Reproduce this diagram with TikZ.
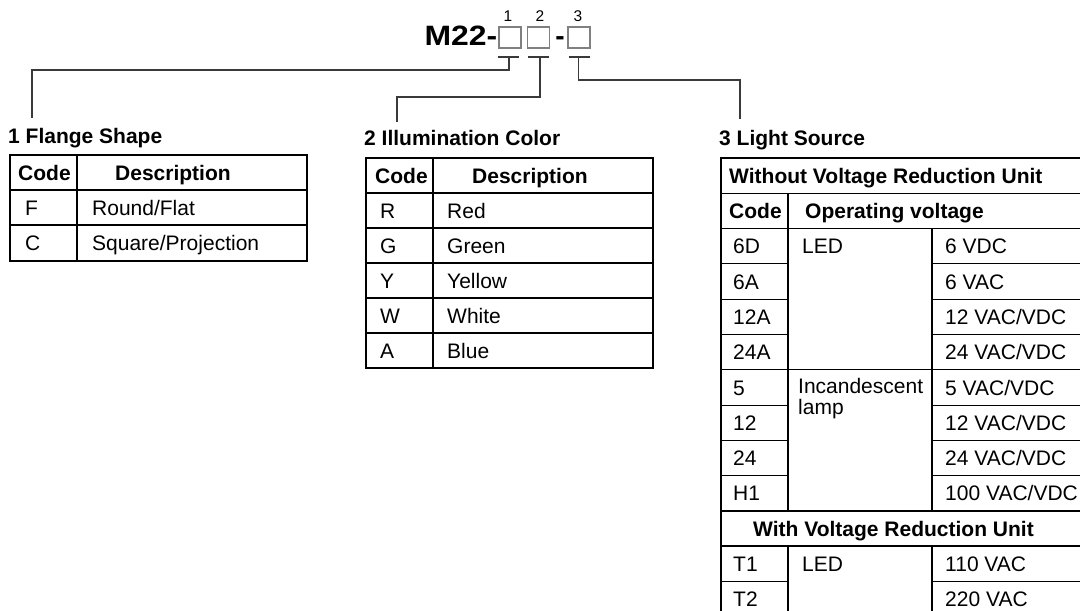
\documentclass[tikz,border=0pt]{standalone}
\usepackage{fontspec}
\setmainfont{Liberation Sans}
\definecolor{boxgray}{HTML}{808080}
\definecolor{conngray}{HTML}{3A3A3A}
\begin{document}
\begin{tikzpicture}[x=1pt,y=-1pt,
  txt/.style={anchor=base west,inner sep=0,font=\fontsize{21}{24}\selectfont},
  btxt/.style={anchor=base west,inner sep=0,font=\fontsize{21}{24}\selectfont\bfseries},
  outer/.style={line width=2.2pt},
  inner/.style={line width=1.1pt},
  codebox/.style={draw=boxgray,line width=1.2pt,minimum width=22pt,minimum height=21pt,inner sep=0},
  conn/.style={draw=conngray,line width=1.3pt},
  numlbl/.style={anchor=base,inner sep=0,font=\fontsize{15.5}{17}\selectfont},
]
\useasboundingbox (0,0) rectangle (1080,611);
\clip (0,0) rectangle (1080,611);

% ---------- header ----------
\node[codebox] (b1) at (510,37.5) {};
\node[codebox] (b2) at (538.5,37.5) {};
\node[codebox] (b3) at (579,37.5) {};
\node[anchor=base east,inner sep=0,font=\fontsize{28}{30}\selectfont\bfseries] (m22) at (497.5,45) {\scalebox{1.14}[1]{M22-}};
\node[anchor=base,inner sep=0,font=\fontsize{28}{30}\selectfont\bfseries] (dash) at (560,45) {-};
\node[numlbl] (n1) at (508,21) {1};
\node[numlbl] (n2) at (540,21) {2};
\node[numlbl] (n3) at (578,21) {3};

% ---------- titles ----------
\node[btxt] (t1) at (8,143) {1 Flange Shape};
\node[btxt] (t2) at (364,145) {2 Illumination Color};
\node[btxt] (t3) at (719,145) {3 Light Source};

% ---------- connectors ----------
\coordinate (k1) at (509,57);
\coordinate (k2) at (540,57);
\coordinate (k3) at (578.5,57);
\coordinate (e1) at (32,118);
\coordinate (e2) at (397,122);
\coordinate (e3) at (740,119);
\draw[conn] ([xshift=-11pt]k1) -- ([xshift=10pt]k1);
\draw[conn] ([xshift=-12pt]k2) -- ([xshift=9pt]k2);
\draw[conn] ([xshift=-10pt]k3) -- ([xshift=11pt]k3);
\draw[conn] (k1) -- ++(0,13) -| (e1);
\draw[conn] (k2) -- ++(0,40) -| (e2);
\draw[conn] (k3) -- ++(0,23) -| (e3);

% ---------- table 1 ----------
\draw[inner] (10,190) -- (307,190);
\draw[inner] (10,225) -- (307,225);
\draw[inner] (77,155) -- (77,261);
\draw[outer] (10,155) rectangle (307,261);
\node[btxt] (t1h1) at (18,180) {Code};
\node[btxt] (t1h2) at (115,180) {Description};
\node[txt] (t1c1) at (25,215) {F};
\node[txt] (t1d1) at (92,215) {Round/Flat};
\node[txt] (t1c2) at (25,250.5) {C};
\node[txt] (t1d2) at (92,250.5) {Square/Projection};

% ---------- table 2 ----------
\foreach \yy in {193,228,263,298,333} \draw[inner] (366,\yy) -- (653,\yy);
\draw[inner] (433,158) -- (433,368);
\draw[outer] (366,158) rectangle (653,368);
\node[btxt] (t2h1) at (375,183) {Code};
\node[btxt] (t2h2) at (472,183) {Description};
\node[txt] (t2c1) at (380,218) {R};
\node[txt] (t2d1) at (447,218) {Red};
\node[txt] (t2c2) at (380,253) {G};
\node[txt] (t2d2) at (447,253) {Green};
\node[txt] (t2c3) at (380,288) {Y};
\node[txt] (t2d3) at (447,288) {Yellow};
\node[txt] (t2c4) at (380,323) {W};
\node[txt] (t2d4) at (447,323) {White};
\node[txt] (t2c5) at (380,358) {A};
\node[txt] (t2d5) at (447,358) {Blue};

% ---------- table 3 ----------
\foreach \yy in {193.3,228.6,369.8} \draw[inner] (721,\yy) -- (1100,\yy);
\foreach \yy in {263.9,299.2,334.5,405.1,440.4,475.7,581.6} {
  \draw[inner] (721,\yy) -- (788,\yy);
  \draw[inner] (932,\yy) -- (1100,\yy);
}
\draw[inner] (788,193.3) -- (788,511);
\draw[inner] (788,546.3) -- (788,630);
\draw[inner] (932,228.6) -- (932,511);
\draw[inner] (932,546.3) -- (932,630);
\draw[outer] (721,511) -- (1100,511);
\draw[outer] (721,546.3) -- (1100,546.3);
\draw[outer] (1100,158) -- (721,158) -- (721,630);

\node[btxt] (t3h0) at (729,183.2) {Without Voltage Reduction Unit};
\node[btxt] (t3h1) at (729,218.5) {Code};
\node[btxt] (t3h2) at (805,218.5) {Operating voltage};
\node[txt] (c6d) at (733,253.8) {6D};
\node[txt] (c6a) at (733,289.1) {6A};
\node[txt] (c12a) at (733,324.4) {12A};
\node[txt] (c24a) at (733,359.7) {24A};
\node[txt] (c5) at (733,395) {5};
\node[txt] (c12) at (733,430.3) {12};
\node[txt] (c24) at (733,465.6) {24};
\node[txt] (ch1) at (733,500.9) {H1};
\node[txt] (led1) at (802,253.8) {LED};
\node[txt] (inc) at (798,393) {Incandescent};
\node[txt] (lamp) at (798,414) {lamp};
\node[txt] (v6d) at (945,253.8) {6 VDC};
\node[txt] (v6a) at (945,289.1) {6 VAC};
\node[txt] (v12a) at (945,324.4) {12 VAC/VDC};
\node[txt] (v24a) at (945,359.7) {24 VAC/VDC};
\node[txt] (v5) at (945,395) {5 VAC/VDC};
\node[txt] (v12) at (945,430.3) {12 VAC/VDC};
\node[txt] (v24) at (945,465.6) {24 VAC/VDC};
\node[txt] (vh1) at (945,500.9) {100 VAC/VDC};
\node[btxt] (t3h3) at (753,536.2) {With Voltage Reduction Unit};
\node[txt] (ct1) at (733,571.5) {T1};
\node[txt] (ct2) at (733,606.8) {T2};
\node[txt] (led2) at (802,571.5) {LED};
\node[txt] (vt1) at (945,571.5) {110 VAC};
\node[txt] (vt2) at (945,606.8) {220 VAC};
\end{tikzpicture}
\end{document}
